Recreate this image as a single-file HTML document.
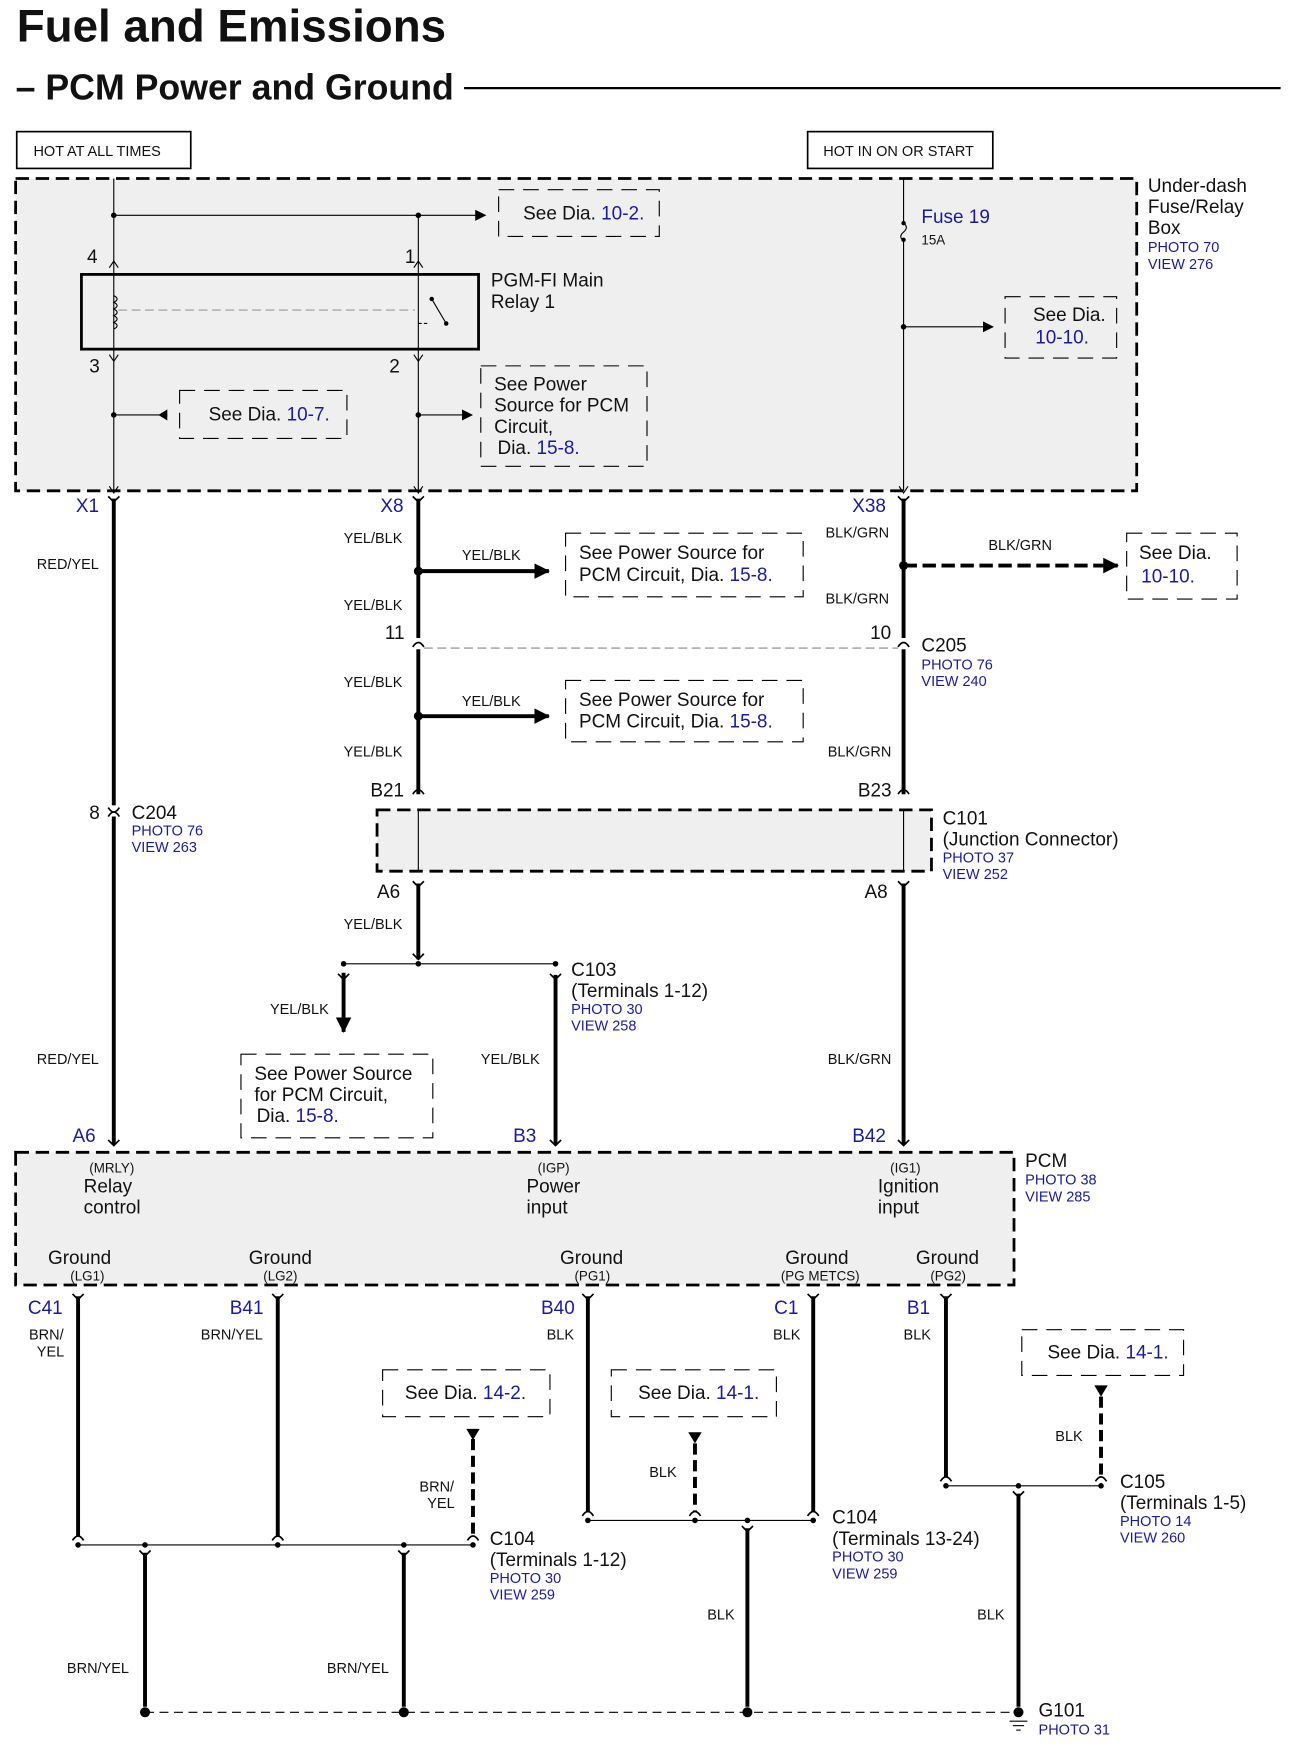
<!DOCTYPE html>
<html><head><meta charset="utf-8"><style>
html,body{margin:0;padding:0;background:#fff;}
svg{display:block;}
text{font-family:"Liberation Sans",sans-serif;fill:#111;}
.b{fill:#1a1aa0;}
.s{font-size:13px;}
.m{font-size:17px;}
.p{font-size:13px;fill:#1a1aa0;}
</style></head><body>
<svg width="1294" height="1758" viewBox="0 0 1160 1576" preserveAspectRatio="none" xmlns="http://www.w3.org/2000/svg">
<defs>
<marker id="ah" markerWidth="10" markerHeight="10" refX="9" refY="5" orient="auto" markerUnits="userSpaceOnUse"><path d="M0,0 L10,5 L0,10 z" fill="#000"/></marker>
<marker id="ahb" markerWidth="14" markerHeight="14" refX="13" refY="7" orient="auto" markerUnits="userSpaceOnUse"><path d="M0,0 L14,7 L0,14 z" fill="#000"/></marker>
</defs>
<text x="15" y="37" font-size="41" font-weight="bold">Fuel and Emissions</text>
<text x="14" y="89" font-size="32" font-weight="bold">– PCM Power and Ground</text>
<line x1="416" y1="79" x2="1148" y2="79" stroke="#000" stroke-width="2"/>
<rect x="15" y="118" width="156" height="33" fill="none" stroke="#000" stroke-width="1.5"/>
<text x="30" y="140" class="s">HOT AT ALL TIMES</text>
<rect x="724" y="118" width="166" height="33" fill="none" stroke="#000" stroke-width="1.5"/>
<text x="738" y="140" class="s">HOT IN ON OR START</text>
<!-- fuse box -->
<rect x="14" y="160" width="1005" height="280" fill="#efefef" stroke="#000" stroke-width="2.5" stroke-dasharray="12,6"/>
<text x="1029" y="172" class="m">Under-dash</text><text x="1029" y="191" class="m">Fuse/Relay</text><text x="1029" y="210" class="m">Box</text>
<text x="1029" y="226" class="p">PHOTO 70</text><text x="1029" y="241" class="p">VIEW 276</text>
<g stroke="#000" stroke-width="1" fill="none">
<line x1="102" y1="160" x2="102" y2="440"/><line x1="375" y1="193" x2="375" y2="440"/>
<line x1="810" y1="160" x2="810" y2="200"/><line x1="810" y1="215" x2="810" y2="440"/>
<path d="M810,200 q5,4 0,8 q-5,4 0,8"/>
<line x1="102" y1="193" x2="435" y2="193" marker-end="url(#ah)"/>
<line x1="810" y1="293" x2="890" y2="293" marker-end="url(#ah)"/>
<line x1="375" y1="372" x2="423" y2="372" marker-end="url(#ah)"/>
<line x1="102" y1="372" x2="150" y2="372"/>
<path d="M98,240 l4,-6 l4,6 M98,318 l4,6 l4,-6 M371,240 l4,-6 l4,6 M371,318 l4,6 l4,-6 M98,436 l4,6 l4,-6 M371,436 l4,6 l4,-6 M806,436 l4,6 l4,-6"/>
<path d="M102,265 q6,3 0,6 q6,3 0,6 q6,3 0,6 q6,3 0,6 q6,3 0,6"/>
<line x1="106" y1="278" x2="372" y2="278" stroke="#999" stroke-dasharray="8,4"/>
<line x1="387" y1="268" x2="400" y2="290"/><path d="M375,290 l10,0" stroke-dasharray="3,2"/>
</g>
<path d="M150,367 l-8,5 l8,5z" fill="#000"/>
<g fill="#000"><circle cx="102" cy="193" r="2.5"/><circle cx="375" cy="193" r="2.5"/><circle cx="810" cy="293" r="2.5"/><circle cx="102" cy="372" r="2.5"/><circle cx="375" cy="372" r="2.5"/><circle cx="810" cy="200" r="2"/><circle cx="810" cy="215" r="2"/><circle cx="387" cy="268" r="2"/><circle cx="400" cy="290" r="2"/></g>
<rect x="73" y="246" width="356" height="67" fill="none" stroke="#000" stroke-width="2.5"/>
<text x="78" y="236" class="m">4</text><text x="363" y="236" class="m">1</text><text x="80" y="334" class="m">3</text><text x="349" y="334" class="m">2</text>
<text x="440" y="257" class="m">PGM-FI Main</text><text x="440" y="276" class="m">Relay 1</text>
<text x="826" y="200" class="m b">Fuse 19</text><text x="826" y="219" font-size="12">15A</text>
<g fill="none" stroke="#000" stroke-width="1" stroke-dasharray="14,8">
<rect x="447" y="170" width="144" height="42"/><rect x="901" y="266" width="100" height="55"/>
<rect x="161" y="350" width="150" height="43"/><rect x="431" y="328" width="149" height="90"/>
<rect x="507" y="478" width="213" height="57"/><rect x="507" y="610" width="213" height="55"/>
<rect x="1010" y="478" width="99" height="59"/><rect x="216" y="945" width="172" height="75"/>
<rect x="343" y="1228" width="150" height="42"/><rect x="548" y="1228" width="148" height="42"/><rect x="916" y="1192" width="145" height="41"/>
</g>
<text x="469" y="197" class="m">See Dia. <tspan class="b">10-2.</tspan></text>
<text x="926" y="288" class="m">See Dia.</text><text x="928" y="308" class="m b">10-10.</text>
<text x="187" y="377" class="m">See Dia. <tspan class="b">10-7.</tspan></text>
<text x="443" y="350" class="m">See Power</text><text x="443" y="369" class="m">Source for PCM</text><text x="443" y="388" class="m">Circuit,</text><text x="446" y="407" class="m">Dia. <tspan class="b">15-8.</tspan></text>
<!-- thick wires -->
<g stroke="#000" stroke-width="3.5" fill="none">
<line x1="102" y1="447" x2="102" y2="722"/><line x1="102" y1="732" x2="102" y2="1026"/>
<line x1="375" y1="447" x2="375" y2="572"/><line x1="375" y1="582" x2="375" y2="712"/><line x1="375" y1="792" x2="375" y2="860"/>
<line x1="810" y1="447" x2="810" y2="572"/><line x1="810" y1="582" x2="810" y2="712"/><line x1="810" y1="792" x2="810" y2="1026"/>
<line x1="498" y1="874" x2="498" y2="1026"/><line x1="308" y1="872" x2="308" y2="925" marker-end="url(#ahb)"/>
<line x1="375" y1="512" x2="492" y2="512" marker-end="url(#ahb)"/>
<line x1="375" y1="642" x2="492" y2="642" marker-end="url(#ahb)"/>
<line x1="810" y1="507" x2="1002" y2="507" stroke-dasharray="12,5" marker-end="url(#ahb)"/>
</g>
<g stroke="#000" stroke-width="1.5" fill="none">
<path d="M97,445 l5,5 l5,-5 M370,445 l5,5 l5,-5 M805,445 l5,5 l5,-5"/>
<path d="M97,732 q5,-8 10,0 M97,724 q5,8 10,0"/>
<path d="M370,580 q5,-8 10,0 M370,712 q5,-8 10,0 M805,580 q5,-8 10,0 M805,712 q5,-8 10,0"/>
<path d="M370,790 l5,5 l5,-5 M805,790 l5,5 l5,-5 M370,855 l5,5 l5,-5 M493,873 l5,5 l5,-5 M303,873 l5,5 l5,-5"/>
<path d="M97,1022 l5,5 l5,-5 M493,1022 l5,5 l5,-5 M805,1022 l5,5 l5,-5"/>
</g>
<line x1="380" y1="581" x2="805" y2="581" stroke="#888" stroke-width="1" stroke-dasharray="8,4"/>
<line x1="308" y1="864" x2="498" y2="864" stroke="#000" stroke-width="1"/>
<g fill="#000"><circle cx="375" cy="512" r="4"/><circle cx="375" cy="642" r="4"/><circle cx="810" cy="507" r="4"/><circle cx="308" cy="864" r="2.5"/><circle cx="375" cy="864" r="2.5"/><circle cx="498" cy="864" r="2.5"/></g>
<rect x="338" y="726" width="497" height="55" fill="#efefef" stroke="#000" stroke-width="2.5" stroke-dasharray="12,6"/>
<g stroke="#000" stroke-width="1"><line x1="375" y1="726" x2="375" y2="781"/><line x1="810" y1="726" x2="810" y2="781"/></g>
<text x="68" y="459" class="m b">X1</text><text x="341" y="459" class="m b">X8</text><text x="764" y="459" class="m b">X38</text>
<text x="33" y="510" class="s">RED/YEL</text><text x="308" y="487" class="s">YEL/BLK</text><text x="414" y="502" class="s">YEL/BLK</text>
<text x="519" y="501" class="m">See Power Source for</text><text x="519" y="521" class="m">PCM Circuit,  Dia.  <tspan class="b">15-8.</tspan></text>
<text x="308" y="547" class="s">YEL/BLK</text><text x="345" y="573" class="m">11</text><text x="780" y="573" class="m">10</text>
<text x="826" y="584" class="m">C205</text><text x="826" y="600" class="p">PHOTO 76</text><text x="826" y="615" class="p">VIEW 240</text>
<text x="308" y="616" class="s">YEL/BLK</text><text x="414" y="633" class="s">YEL/BLK</text>
<text x="519" y="633" class="m">See Power Source for</text><text x="519" y="652" class="m">PCM Circuit,  Dia.  <tspan class="b">15-8.</tspan></text>
<text x="308" y="678" class="s">YEL/BLK</text>
<text x="740" y="482" class="s">BLK/GRN</text><text x="886" y="493" class="s">BLK/GRN</text>
<text x="1021" y="501" class="m">See Dia.</text><text x="1023" y="522" class="m b">10-10.</text>
<text x="740" y="541" class="s">BLK/GRN</text><text x="742" y="678" class="s">BLK/GRN</text>
<text x="332" y="714" class="m">B21</text><text x="769" y="714" class="m">B23</text>
<text x="845" y="739" class="m">C101</text><text x="845" y="758" class="m">(Junction Connector)</text><text x="845" y="773" class="p">PHOTO 37</text><text x="845" y="788" class="p">VIEW 252</text>
<text x="338" y="805" class="m">A6</text><text x="775" y="805" class="m">A8</text>
<text x="80" y="734" class="m">8</text><text x="118" y="734" class="m">C204</text><text x="118" y="749" class="p">PHOTO 76</text><text x="118" y="764" class="p">VIEW 263</text>
<text x="308" y="833" class="s">YEL/BLK</text>
<text x="512" y="875" class="m">C103</text><text x="512" y="894" class="m">(Terminals 1-12)</text><text x="512" y="909" class="p">PHOTO 30</text><text x="512" y="924" class="p">VIEW 258</text>
<text x="242" y="909" class="s">YEL/BLK</text>
<text x="228" y="968" class="m">See Power Source</text><text x="228" y="987" class="m">for PCM Circuit,</text><text x="230" y="1006" class="m">Dia.  <tspan class="b">15-8.</tspan></text>
<text x="33" y="954" class="s">RED/YEL</text><text x="431" y="954" class="s">YEL/BLK</text><text x="742" y="954" class="s">BLK/GRN</text>
<text x="65" y="1024" class="m b">A6</text><text x="460" y="1024" class="m b">B3</text><text x="764" y="1024" class="m b">B42</text>
<!-- PCM -->
<rect x="14" y="1033" width="895" height="119" fill="#efefef" stroke="#000" stroke-width="2.5" stroke-dasharray="12,6"/>
<text x="919" y="1046" class="m">PCM</text><text x="919" y="1062" class="p">PHOTO 38</text><text x="919" y="1077" class="p">VIEW 285</text>
<text x="80" y="1051" font-size="12">(MRLY)</text><text x="75" y="1069" class="m">Relay</text><text x="75" y="1088" class="m">control</text>
<text x="482" y="1051" font-size="12">(IGP)</text><text x="472" y="1069" class="m">Power</text><text x="472" y="1088" class="m">input</text>
<text x="798" y="1051" font-size="12">(IG1)</text><text x="787" y="1069" class="m">Ignition</text><text x="787" y="1088" class="m">input</text>
<text x="43" y="1133" class="m">Ground</text><text x="63" y="1148" font-size="12">(LG1)</text>
<text x="223" y="1133" class="m">Ground</text><text x="236" y="1148" font-size="12">(LG2)</text>
<text x="502" y="1133" class="m">Ground</text><text x="515" y="1148" font-size="12">(PG1)</text>
<text x="704" y="1133" class="m">Ground</text><text x="700" y="1148" font-size="12">(PG METCS)</text>
<text x="821" y="1133" class="m">Ground</text><text x="834" y="1148" font-size="12">(PG2)</text>
<text x="25" y="1178" class="m b">C41</text><text x="206" y="1178" class="m b">B41</text><text x="485" y="1178" class="m b">B40</text><text x="694" y="1178" class="m b">C1</text><text x="813" y="1178" class="m b">B1</text>
<g stroke="#000" stroke-width="3.5" fill="none">
<line x1="70" y1="1162" x2="70" y2="1377"/><line x1="249" y1="1162" x2="249" y2="1377"/>
<line x1="527" y1="1162" x2="527" y2="1355"/><line x1="729" y1="1162" x2="729" y2="1355"/>
<line x1="848" y1="1162" x2="848" y2="1324"/>
<line x1="424" y1="1290" x2="424" y2="1377" stroke-dasharray="10,5"/>
<line x1="623" y1="1294" x2="623" y2="1355" stroke-dasharray="10,5"/>
<line x1="987" y1="1252" x2="987" y2="1324" stroke-dasharray="10,5"/>
<line x1="130" y1="1392" x2="130" y2="1530"/><line x1="362" y1="1392" x2="362" y2="1530"/>
<line x1="670" y1="1370" x2="670" y2="1530"/><line x1="913" y1="1339" x2="913" y2="1530"/>
</g>
<g fill="#000"><path d="M418,1281 h12 l-6,10z"/><path d="M617,1284 h12 l-6,10z"/><path d="M981,1242 h12 l-6,10z"/></g>
<g stroke="#000" stroke-width="1.5" fill="none">
<path d="M65,1160 l5,5 l5,-5 M244,1160 l5,5 l5,-5 M522,1160 l5,5 l5,-5 M724,1160 l5,5 l5,-5 M843,1160 l5,5 l5,-5"/>
<path d="M65,1381 q5,-8 10,0 M244,1381 q5,-8 10,0 M419,1381 q5,-8 10,0 M522,1359 q5,-8 10,0 M618,1359 q5,-8 10,0 M724,1359 q5,-8 10,0 M843,1328 q5,-8 10,0 M982,1328 q5,-8 10,0"/>
<path d="M125,1390 l5,5 l5,-5 M357,1390 l5,5 l5,-5 M665,1368 l5,5 l5,-5 M908,1337 l5,5 l5,-5"/>
</g>
<g stroke="#000" stroke-width="1">
<line x1="70" y1="1385" x2="424" y2="1385"/><line x1="527" y1="1363" x2="729" y2="1363"/><line x1="848" y1="1332" x2="987" y2="1332"/>
<line x1="130" y1="1535" x2="913" y2="1535" stroke-dasharray="8,5"/>
<line x1="905" y1="1543" x2="921" y2="1543"/><line x1="908" y1="1547" x2="918" y2="1547"/><line x1="911" y1="1551" x2="915" y2="1551"/>
</g>
<g fill="#000">
<circle cx="70" cy="1385" r="2.5"/><circle cx="130" cy="1385" r="2.5"/><circle cx="249" cy="1385" r="2.5"/><circle cx="362" cy="1385" r="2.5"/><circle cx="424" cy="1385" r="2.5"/>
<circle cx="527" cy="1363" r="2.5"/><circle cx="623" cy="1363" r="2.5"/><circle cx="670" cy="1363" r="2.5"/><circle cx="729" cy="1363" r="2.5"/>
<circle cx="848" cy="1332" r="2.5"/><circle cx="913" cy="1332" r="2.5"/><circle cx="987" cy="1332" r="2.5"/>
<circle cx="130" cy="1535" r="4.5"/><circle cx="362" cy="1535" r="4.5"/><circle cx="670" cy="1535" r="4.5"/><circle cx="913" cy="1535" r="4.5"/>
</g>
<text x="26" y="1201" class="s">BRN/</text><text x="33" y="1216" class="s">YEL</text><text x="180" y="1201" class="s">BRN/YEL</text>
<text x="490" y="1201" class="s">BLK</text><text x="693" y="1201" class="s">BLK</text><text x="810" y="1201" class="s">BLK</text>
<text x="363" y="1254" class="m">See Dia.  <tspan class="b">14-2.</tspan></text>
<text x="572" y="1254" class="m">See Dia.  <tspan class="b">14-1.</tspan></text>
<text x="939" y="1218" class="m">See Dia.  <tspan class="b">14-1.</tspan></text>
<text x="376" y="1337" class="s">BRN/</text><text x="383" y="1352" class="s">YEL</text>
<text x="582" y="1324" class="s">BLK</text><text x="946" y="1292" class="s">BLK</text>
<text x="439" y="1385" class="m">C104</text><text x="439" y="1404" class="m">(Terminals 1-12)</text><text x="439" y="1419" class="p">PHOTO 30</text><text x="439" y="1434" class="p">VIEW 259</text>
<text x="746" y="1366" class="m">C104</text><text x="746" y="1385" class="m">(Terminals 13-24)</text><text x="746" y="1400" class="p">PHOTO 30</text><text x="746" y="1415" class="p">VIEW 259</text>
<text x="1004" y="1334" class="m">C105</text><text x="1004" y="1353" class="m">(Terminals 1-5)</text><text x="1004" y="1368" class="p">PHOTO 14</text><text x="1004" y="1383" class="p">VIEW 260</text>
<text x="60" y="1500" class="s">BRN/YEL</text><text x="293" y="1500" class="s">BRN/YEL</text><text x="634" y="1452" class="s">BLK</text><text x="876" y="1452" class="s">BLK</text>
<text x="931" y="1539" class="m">G101</text><text x="931" y="1555" class="p">PHOTO 31</text>
</svg>
</body></html>
